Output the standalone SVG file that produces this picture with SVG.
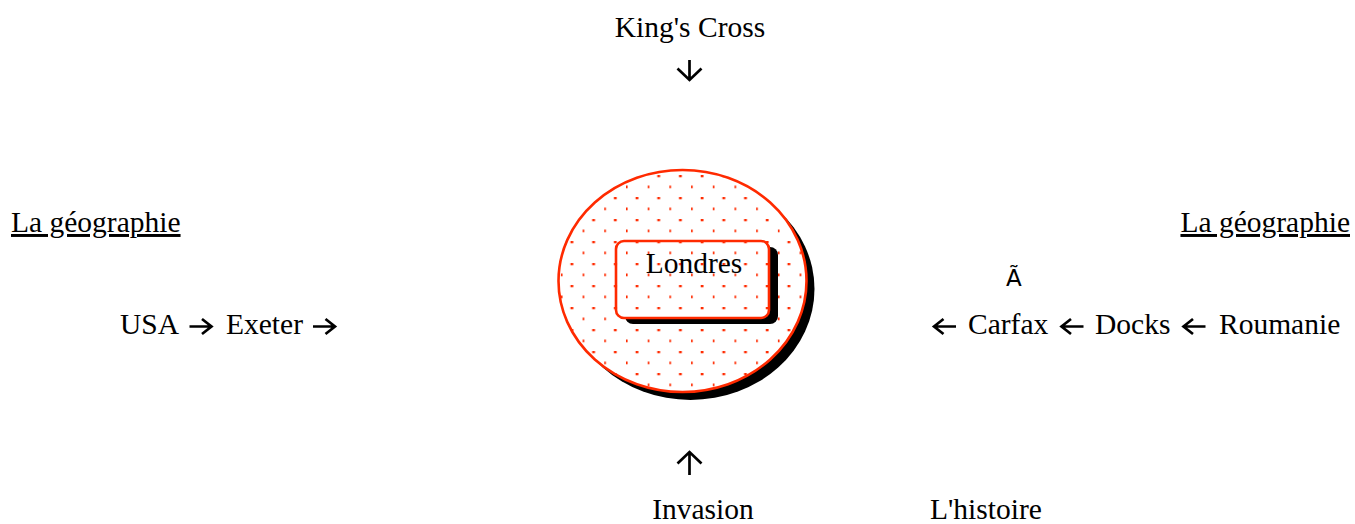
<svg xmlns="http://www.w3.org/2000/svg" width="1355" height="524" viewBox="0 0 1355 524">
<style>
.t{font-family:"Liberation Serif","Times New Roman",serif;font-size:29.5px;fill:#000}
.u{text-decoration:underline}
.red{stroke:#ff2a00;stroke-width:2.6}
.arr{fill:none;stroke:#000;stroke-width:2.7;stroke-linejoin:miter;stroke-linecap:butt}
.dot{fill:#ff2a00}
</style>
<defs>
<pattern id="dots" patternUnits="userSpaceOnUse" x="626" y="175" width="21.7" height="22">
<rect class="dot" x="9.6" y="-0.5" width="2.8" height="2.8"/>
<rect class="dot" x="-1.2" y="10.5" width="2.8" height="2.8"/>
</pattern>
<path id="ah" class="arr" d="M0,0 H22 M12.5,-7.5 L22,0 L12.5,7.5"/>
</defs>
<rect width="1355" height="524" fill="#fff"/>
<g id="london">
<ellipse cx="690.5" cy="289" rx="124" ry="111" fill="#000"/>
<ellipse cx="682.5" cy="281" rx="124" ry="111" fill="#fff"/>
<ellipse cx="682.5" cy="281" rx="124" ry="111" fill="url(#dots)" class="red"/>
<rect x="625" y="247" width="153" height="77" rx="8" fill="#000"/>
<rect x="616" y="241" width="153" height="77" rx="8" fill="#fff"/>
<rect x="616" y="241" width="153" height="77" rx="8" fill="url(#dots)" class="red"/>
<text class="t" x="694" y="273" text-anchor="middle">Londres</text>
</g>
<g id="kingscross"><text class="t" x="690" y="37" text-anchor="middle">King's Cross</text></g>
<g id="geo-left"><text class="t u" x="11" y="232">La géographie</text></g>
<g id="usa">
<text class="t" x="120" y="334">USA</text>
<text class="t" x="226" y="334">Exeter</text>
</g>
<g id="geo-right"><text class="t u" x="1350" y="232" text-anchor="end">La géographie</text></g>
<g id="atilde"><text x="1006" y="286" style="font-family:'DejaVu Sans',sans-serif;font-size:23px">Ã</text></g>
<g id="roumanie">
<text class="t" x="968" y="334">Carfax</text>
<text class="t" x="1095" y="334">Docks</text>
<text class="t" x="1219" y="334">Roumanie</text>
</g>
<g id="invasion"><text class="t" x="703" y="519" text-anchor="middle">Invasion</text></g>
<g id="histoire"><text class="t" x="930" y="519">L'histoire</text></g>
<g id="connectors">
<use href="#ah" transform="translate(189.5,326.5)"/>
<use href="#ah" transform="translate(313,326.5)"/>
<use href="#ah" transform="translate(956,326.5) rotate(180)"/>
<use href="#ah" transform="translate(1083.5,326.5) rotate(180)"/>
<use href="#ah" transform="translate(1205.5,326.5) rotate(180)"/>
<path class="arr" d="M689.5,60 V79.5 M677.5,68.5 L689.5,80 L701.5,68.5"/>
<path class="arr" d="M689.5,475 V452.5 M677.5,463.5 L689.5,452 L701.5,463.5"/>
</g>
</svg>
